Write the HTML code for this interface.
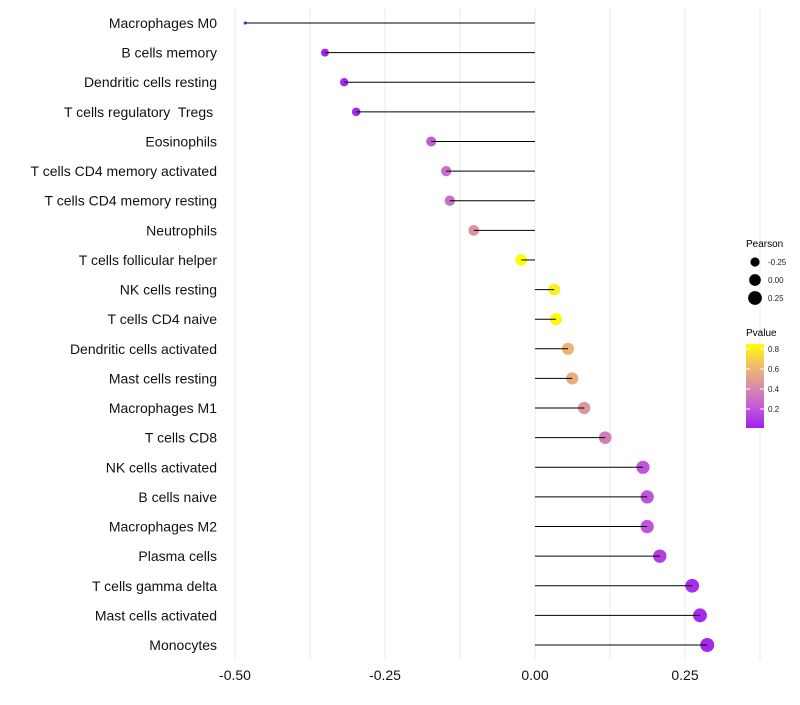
<!DOCTYPE html>
<html><head><meta charset="utf-8"><style>
body{margin:0;background:#fff;font-family:"Liberation Sans",sans-serif;}
text{white-space:pre;}
</style></head><body>
<svg id="chart" width="800" height="700" xmlns="http://www.w3.org/2000/svg">
<defs><linearGradient id="pg" x1="0" y1="1" x2="0" y2="0">
<stop offset="0" stop-color="#A020F0"/><stop offset="0.25" stop-color="#C25AD8"/><stop offset="0.5" stop-color="#D98FA5"/><stop offset="0.75" stop-color="#F0BE6A"/><stop offset="1" stop-color="#FFFF00"/></linearGradient></defs>
<g id="grid"></g><g id="marks"></g><g id="labels"></g>
<g font-size="10">
<text x="746" y="247" fill="#000">Pearson</text>
<text x="746" y="336" fill="#000">Pvalue</text>
<rect x="746" y="344" width="18" height="84" fill="url(#pg)"/>
<g id="leg"></g>
</g>
</svg>
<script>
const categories=["Macrophages M0","B cells memory","Dendritic cells resting","T cells regulatory  Tregs ","Eosinophils","T cells CD4 memory activated","T cells CD4 memory resting","Neutrophils","T cells follicular helper","NK cells resting","T cells CD4 naive","Dendritic cells activated","Mast cells resting","Macrophages M1","T cells CD8","NK cells activated","B cells naive","Macrophages M2","Plasma cells","T cells gamma delta","Mast cells activated","Monocytes"];
const pearson=[-0.483,-0.35,-0.318,-0.298,-0.173,-0.148,-0.142,-0.102,-0.023,0.032,0.035,0.055,0.062,0.082,0.117,0.18,0.187,0.187,0.208,0.262,0.275,0.287];
const pvalue=[0.02,0.03,0.04,0.04,0.22,0.3,0.3,0.45,0.85,0.8,0.82,0.6,0.56,0.46,0.36,0.2,0.2,0.2,0.12,0.06,0.05,0.04];
const xTicks=[-0.5,-0.25,0,0.25];
const xTickLabels=["-0.50","-0.25","0.00","0.25"];
const sizeLegend=[-0.25,0,0.25];
const pTicks=[0.2,0.4,0.6,0.8];
const NS="http://www.w3.org/2000/svg";
const x=v=>535+v*600;
const y=i=>23+i*(622/21);
const r=v=>v<-0.45?1.6:Math.sqrt(34.1+51.8*v);
const stops=[[0.01,[160,32,240]],[0.22,[194,90,216]],[0.43,[217,143,165]],[0.64,[240,190,106]],[0.85,[255,255,0]]];
function col(p){for(let k=0;k<stops.length-1;k++){const a=stops[k],b=stops[k+1];if(p<=b[0]||k==stops.length-2){let t=Math.max(0,Math.min(1,(p-a[0])/(b[0]-a[0])));return "rgb("+a[1].map((c,j)=>Math.round(c+(b[1][j]-c)*t)).join(",")+")";}}}
function mk(t,at,parent){const e=document.createElementNS(NS,t);for(const k in at)e.setAttribute(k,at[k]);parent.appendChild(e);return e;}
const G=document.getElementById('grid'),M=document.getElementById('marks'),L=document.getElementById('labels'),LG=document.getElementById('leg');
for(let v=-0.5;v<=0.376;v+=0.125){const e=mk('line',{x1:x(v),x2:x(v),y1:8,y2:660,stroke:'#ebebeb','stroke-width':1},G);

}
xTicks.forEach((v,i)=>{const t=mk('text',{x:x(v),y:680,'text-anchor':'middle','font-size':14,fill:'#111'},L);t.textContent=xTickLabels[i];

});
categories.forEach((c,i)=>{
const t=mk('text',{x:217,y:y(i)+5,'text-anchor':'end','font-size':14,fill:'#111'},L);t.textContent=c;


const ci=mk('circle',{cx:x(pearson[i]),cy:y(i),r:r(pearson[i]),fill:col(pvalue[i])},M);


const ln=mk('line',{x1:x(0),x2:x(pearson[i]),y1:y(i),y2:y(i),stroke:'#000','stroke-width':1},M);


});
sizeLegend.forEach((v,i)=>{const cy=262+i*18;const c=mk('circle',{cx:755,cy:cy,r:r(v),fill:'#000'},LG);


const t=mk('text',{x:768,y:cy+3,'font-size':8,fill:'#222'},LG);t.textContent=v.toFixed(2);

});
pTicks.forEach(p=>{const yy=428-(p-0.01)/(0.84)*84;const t=mk('text',{x:768,y:yy+3,'font-size':8,fill:'#222'},LG);t.textContent=p.toFixed(1);


mk('line',{x1:746,x2:750,y1:yy,y2:yy,stroke:'#fff'},LG);mk('line',{x1:760,x2:764,y1:yy,y2:yy,stroke:'#fff'},LG);});
</script>
</body></html>
